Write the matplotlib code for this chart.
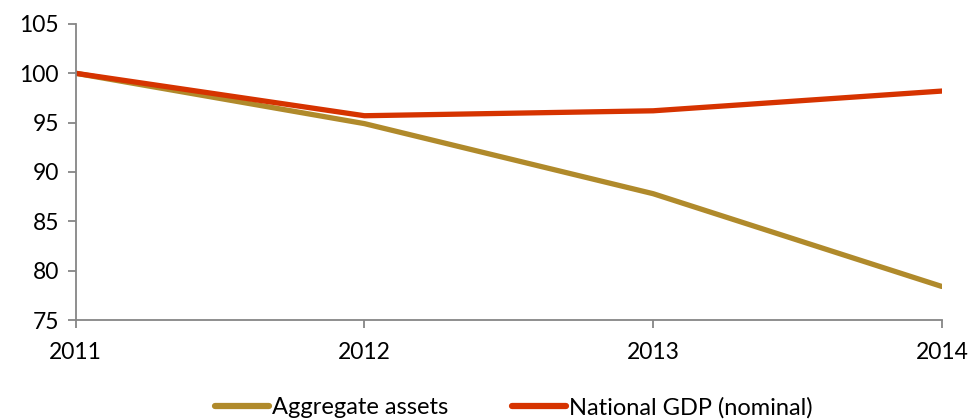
import matplotlib
matplotlib.use("Agg")
import matplotlib.pyplot as plt

years = ["2011", "2012", "2013", "2014"]
aggregate_assets = [100.0, 94.9, 87.8, 78.4]
national_gdp = [100.0, 95.7, 96.2, 98.2]
y_ticks = [75, 80, 85, 90, 95, 100, 105]

plt.rcParams["font.family"] = ["Lato", "DejaVu Sans"]

fig = plt.figure(figsize=(9.71, 4.2), dpi=100)
ax = fig.add_axes([0.078, 0.238, 0.892, 0.705])

x = list(range(len(years)))
gold = "#B08A2B"
red = "#D63300"
ax.plot(x, aggregate_assets, color=gold, lw=3.8, solid_capstyle="round",
        label="Aggregate assets")
ax.plot(x, national_gdp, color=red, lw=3.8, solid_capstyle="round",
        label="National GDP (nominal)")

ax.set_xlim(0, len(years) - 1)
ax.set_ylim(75, 105)
ax.set_xticks(x)
ax.set_xticklabels(years)
ax.set_yticks(y_ticks)

axis_color = "#868686"
for side in ("top", "right"):
    ax.spines[side].set_visible(False)
for side in ("left", "bottom"):
    ax.spines[side].set_color(axis_color)
    ax.spines[side].set_linewidth(1.3)
ax.tick_params(axis="both", colors=axis_color, labelcolor="black",
               labelsize=16.5, width=1.3, length=6, direction="out")
ax.tick_params(axis="x", pad=10)
ax.tick_params(axis="y", pad=6)

leg = fig.legend(loc="center", bbox_to_anchor=(0.529, 0.03), ncol=2,
                 frameon=False, fontsize=17, handlelength=2.3,
                 handletextpad=0.1, columnspacing=2.7)
for line in leg.get_lines():
    line.set_linewidth(4.5)

fig.savefig("out.png", dpi=100)
